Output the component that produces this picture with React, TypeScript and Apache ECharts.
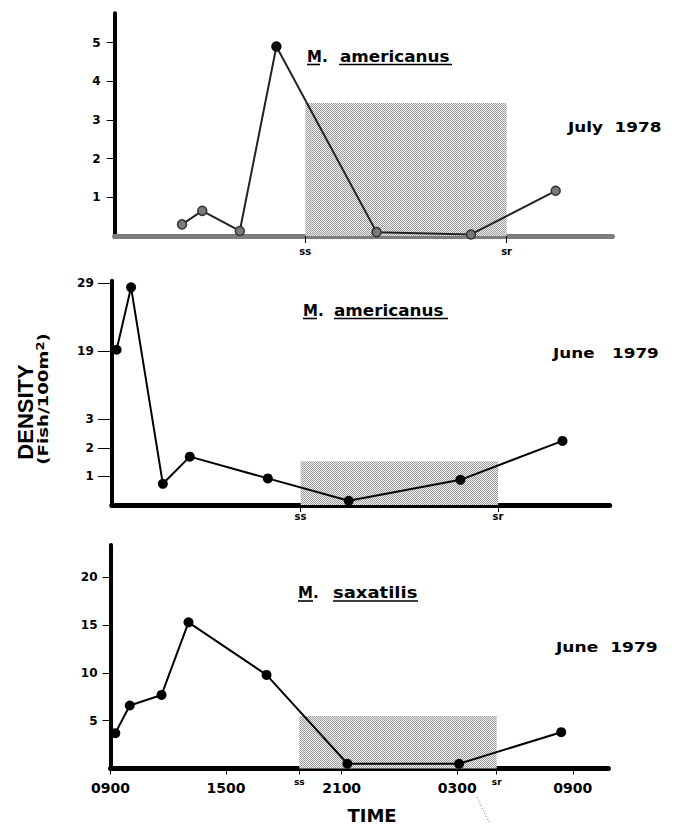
import React, { useEffect, useRef } from "react";
import * as echarts from "echarts";

// Sampling times, in hours after 09:00
const TIMES_JULY_1978 = [3.5, 4.55, 6.5, 8.4, 13.6, 18.5, 22.9];
const TIMES_JUNE_1979 = [0.25, 1.0, 2.65, 4.05, 8.1, 12.3, 18.1, 23.4];

// Densities (fish / 100 m2)
const AMERICANUS_JULY_1978 = [0.3, 0.65, 0.13, 4.9, 0.1, 0.04, 1.17];
const AMERICANUS_JUNE_1979 = [19.2, 28.4, 0.74, 1.69, 0.93, 0.15, 0.88, 2.24];
const SAXATILIS_JUNE_1979 = [3.7, 6.6, 7.7, 15.3, 9.8, 0.5, 0.5, 3.8];

// Night (sunset, sunrise) in hours after 09:00, and height of the night box
const NIGHT_1978 = [9.9, 20.35];
const NIGHT_1979 = [9.8, 20.05];
const NIGHT_LABELS = ["ss", "sr"];
const NIGHT_TOP = [3.44, 1.53, 5.5];

// Tick labels
const HOUR_TICKS = [0, 6, 12, 18, 24];
const HOUR_LABELS = ["0900", "1500", "2100", "0300", "0900"];
const Y_TICKS_1 = [1, 2, 3, 4, 5];
const Y_TICKS_2 = [1, 2, 3, 19, 29];
const Y_TICKS_3 = [5, 10, 15, 20];

// Broken scale of the middle panel: value -> axis position
const BREAK_VALUES = [0, 1, 2, 3, 19, 29];
const BREAK_POS = [0, 1, 2, 3, 5.38, 7.75];

const FONT = "DejaVu Sans";

function brk(v: number): number {
  for (let i = 0; i < BREAK_VALUES.length - 1; i++) {
    if (v <= BREAK_VALUES[i + 1] || i === BREAK_VALUES.length - 2) {
      const f = (v - BREAK_VALUES[i]) / (BREAK_VALUES[i + 1] - BREAK_VALUES[i]);
      return BREAK_POS[i] + f * (BREAK_POS[i + 1] - BREAK_POS[i]);
    }
  }
  return v;
}

function nearestIndex(arr: number[], v: number): number {
  let best = 0;
  for (let i = 1; i < arr.length; i++) {
    if (Math.abs(arr[i] - v) < Math.abs(arr[best] - v)) best = i;
  }
  return best;
}

export default function App() {
  const ref = useRef<HTMLDivElement>(null);

  useEffect(() => {
    if (!ref.current) return;
    const chart = echarts.init(ref.current, null, { renderer: "svg" });

    const tile = document.createElement("canvas");
    tile.width = 2;
    tile.height = 2;
    const ctx = tile.getContext("2d")!;
    ctx.fillStyle = "#f2f2f2";
    ctx.fillRect(0, 0, 2, 2);
    ctx.fillStyle = "#9a9a9a";
    ctx.fillRect(0, 0, 1, 1);
    ctx.fillRect(1, 1, 1, 1);
    const stipple: any = { image: tile, repeat: "repeat", imageWidth: 2, imageHeight: 2 };

    const tickLabelStyle = {
      color: "#000",
      fontFamily: FONT,
      fontWeight: "bold" as const,
      fontSize: 12,
    };

    const yAxis = (
      gridIndex: number,
      max: number,
      positions: number[],
      labels: (string | number)[],
      margin: number,
      tickLen: number
    ) => ({
      type: "value",
      gridIndex,
      min: 0,
      max,
      axisLine: { show: true, lineStyle: { color: "#000", width: 4 } },
      axisTick: {
        show: true,
        customValues: positions,
        length: tickLen,
        lineStyle: { color: "#000", width: 1 },
      },
      axisLabel: {
        show: true,
        customValues: positions,
        margin,
        ...tickLabelStyle,
        formatter: (v: number) => String(labels[nearestIndex(positions, v)]),
      },
      splitLine: { show: false },
    });

    const nightAxis = (
      gridIndex: number,
      night: number[],
      lineColor: string,
      margin: number
    ) => ({
      type: "value",
      gridIndex,
      min: 0,
      max: 25.85,
      axisLine: { show: true, onZero: false, lineStyle: { color: lineColor, width: 5 } },
      axisTick: { show: true, customValues: night, length: 7, lineStyle: { color: "#000", width: 1 } },
      axisLabel: {
        show: true,
        customValues: night,
        margin,
        color: "#000",
        fontFamily: FONT,
        fontWeight: "bold",
        fontSize: 10,
        formatter: (v: number) => NIGHT_LABELS[nearestIndex(night, v)],
      },
      splitLine: { show: false },
    });

    const peak = AMERICANUS_JULY_1978.indexOf(Math.max(...AMERICANUS_JULY_1978));

    const text = (t: string, x: number, y: number, size: number, scaleX = 1) => ({
      type: "text",
      x,
      y,
      scaleX,
      style: {
        text: t,
        fill: "#000",
        fontFamily: FONT,
        fontWeight: "bold",
        fontSize: size,
        align: "left",
        verticalAlign: "middle",
        textAlign: "left",
        textVerticalAlign: "middle",
      },
    });

    const uline = (x1: number, x2: number, y: number) => ({
      type: "line",
      shape: { x1, y1: y, x2, y2: y },
      style: { stroke: "#000", lineWidth: 1.6 },
    });

    chart.setOption({
      animation: false,
      backgroundColor: "#fff",
      grid: [
        { left: 114.6, top: 13.3, width: 497.9, height: 222.7 },
        { left: 111.8, top: 280.7, width: 497.9, height: 224.3 },
        { left: 110.5, top: 545, width: 497.9, height: 223.5 },
      ],
      xAxis: [
        nightAxis(0, NIGHT_1978, "#7d7d7d", 10),
        nightAxis(1, NIGHT_1979, "#000", 6),
        {
          type: "value",
          gridIndex: 2,
          min: 0,
          max: 25.85,
          offset: 0,
          position: "bottom",
          axisLine: { show: true, onZero: false, lineStyle: { color: "#000", width: 5 } },
          axisTick: {
            show: true,
            customValues: [...HOUR_TICKS, ...NIGHT_1979].sort((a, b) => a - b),
            length: 6,
            lineStyle: { color: "#000", width: 1 },
          },
          axisLabel: {
            show: true,
            customValues: HOUR_TICKS,
            margin: 12,
            color: "#000",
            fontFamily: FONT,
            fontWeight: "bold",
            fontSize: 14,
            formatter: (v: number) => HOUR_LABELS[nearestIndex(HOUR_TICKS, v)],
          },
          splitLine: { show: false },
        },
        {
          type: "value",
          gridIndex: 2,
          min: 0,
          max: 25.85,
          offset: 0,
          position: "bottom",
          axisLine: { show: false },
          axisTick: { show: false },
          axisLabel: {
            show: true,
            customValues: NIGHT_1979,
            margin: 9,
            color: "#000",
            fontFamily: FONT,
            fontWeight: "bold",
            fontSize: 9,
            formatter: (v: number) => NIGHT_LABELS[nearestIndex(NIGHT_1979, v)],
          },
          splitLine: { show: false },
        },
      ],
      yAxis: [
        yAxis(0, 5.76, Y_TICKS_1, Y_TICKS_1, 14, 8),
        yAxis(1, 7.84, Y_TICKS_2.map(brk), Y_TICKS_2, 18, 14),
        yAxis(2, 23.4, Y_TICKS_3, Y_TICKS_3, 13, 8),
      ],
      series: [
        {
          type: "line",
          xAxisIndex: 0,
          yAxisIndex: 0,
          symbol: "circle",
          symbolSize: 9,
          lineStyle: { color: "#222", width: 2 },
          itemStyle: { color: "#7a7a7a", borderColor: "#333", borderWidth: 1.5 },
          data: TIMES_JULY_1978.map((t, i) =>
            i === peak
              ? { value: [t, AMERICANUS_JULY_1978[i]], itemStyle: { color: "#111", borderColor: "#000" } }
              : { value: [t, AMERICANUS_JULY_1978[i]] }
          ),
          markArea: {
            silent: true,
            itemStyle: { color: stipple },
            data: [[{ xAxis: NIGHT_1978[0], yAxis: 0 }, { xAxis: NIGHT_1978[1], yAxis: NIGHT_TOP[0] }]],
          },
        },
        {
          type: "line",
          xAxisIndex: 1,
          yAxisIndex: 1,
          symbol: "circle",
          symbolSize: 10,
          lineStyle: { color: "#000", width: 2 },
          itemStyle: { color: "#000" },
          data: TIMES_JUNE_1979.map((t, i) => [t, brk(AMERICANUS_JUNE_1979[i])]),
          markArea: {
            silent: true,
            itemStyle: { color: stipple },
            data: [[{ xAxis: NIGHT_1979[0], yAxis: 0 }, { xAxis: NIGHT_1979[1], yAxis: brk(NIGHT_TOP[1]) }]],
          },
        },
        {
          type: "line",
          xAxisIndex: 2,
          yAxisIndex: 2,
          symbol: "circle",
          symbolSize: 10,
          lineStyle: { color: "#000", width: 2 },
          itemStyle: { color: "#000" },
          data: TIMES_JUNE_1979.map((t, i) => [t, SAXATILIS_JUNE_1979[i]]),
          markArea: {
            silent: true,
            itemStyle: { color: stipple },
            data: [[{ xAxis: NIGHT_1979[0], yAxis: 0 }, { xAxis: NIGHT_1979[1], yAxis: NIGHT_TOP[2] }]],
          },
        },
      ],
      graphic: [
        // Panel 1 title
        text("M.", 307, 57, 15, 1.0),
        text("americanus", 340, 57, 15, 1.12),
        uline(307, 320, 64.5),
        uline(339, 452, 64.5),
        text("July  1978", 568, 127, 14, 1.2),
        // Panel 2 title
        text("M.", 303, 311, 15, 1.0),
        text("americanus", 334, 311, 15, 1.12),
        uline(303, 317, 318.5),
        uline(334, 448, 318.5),
        text("June   1979", 553, 353, 14, 1.2),
        // Panel 3 title
        text("M.", 298, 593, 15, 1.0),
        text("saxatilis", 333, 593, 15, 1.2),
        uline(298, 313, 601),
        uline(333, 418, 601),
        text("June  1979", 556, 648, 14, 1.22),
        // Axis titles
        {
          type: "text",
          x: 25,
          y: 412,
          rotation: Math.PI / 2,
          style: {
            text: "DENSITY",
            fill: "#000",
            fontFamily: "Liberation Sans",
            fontWeight: "bold",
            fontSize: 22,
            align: "center",
            verticalAlign: "middle",
            textAlign: "center",
            textVerticalAlign: "middle",
          },
        },
        {
          type: "text",
          x: 43,
          y: 399,
          rotation: Math.PI / 2,
          scaleX: 1.3,
          style: {
            text: "(Fish/100m{sup|2})",
            fill: "#000",
            fontFamily: FONT,
            fontWeight: "bold",
            fontSize: 14,
            align: "center",
            verticalAlign: "middle",
            textAlign: "center",
            textVerticalAlign: "middle",
            rich: {
              sup: { fontFamily: FONT, fontWeight: "bold", fontSize: 10, verticalAlign: "top", fill: "#000" },
            },
          },
        },
        {
          type: "text",
          x: 372,
          y: 815,
          style: {
            text: "TIME",
            fill: "#000",
            fontFamily: FONT,
            fontWeight: "bold",
            fontSize: 18,
            align: "center",
            verticalAlign: "middle",
            textAlign: "center",
            textVerticalAlign: "middle",
          },
        },
        {
          type: "line",
          shape: { x1: 477, y1: 797, x2: 490, y2: 824 },
          style: { stroke: "#777", lineWidth: 1, lineDash: [1, 2] },
        },
      ],
    });

    return () => chart.dispose();
  }, []);

  return (
    <div
      ref={ref}
      style={{ position: "absolute", left: 0, top: 0, width: 676, height: 825, background: "#fff" }}
    />
  );
}
